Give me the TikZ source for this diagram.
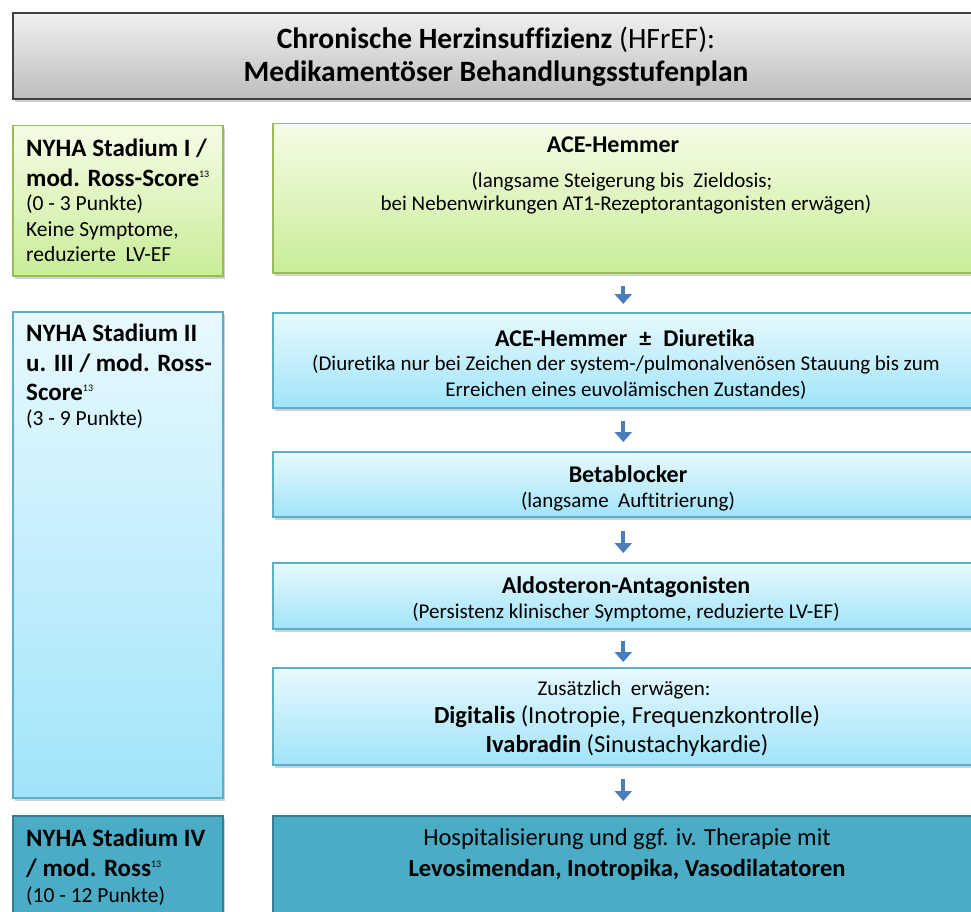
\documentclass[tikz,border=0pt]{standalone}
\usepackage{fontspec}
\setmainfont{Carlito}[Ligatures={NoCommon,NoRare,NoContextual}]
\usetikzlibrary{shadows,arrows.meta}
\definecolor{grnT}{HTML}{F5FCE6}
\definecolor{grnB}{HTML}{C9ED98}
\definecolor{grnD}{HTML}{9BBB59}
\definecolor{bluT}{HTML}{E8F9FD}
\definecolor{bluB}{HTML}{A0E4FA}
\definecolor{bluD}{HTML}{5AB0CC}
\definecolor{tealF}{HTML}{4BACC6}
\definecolor{tealD}{HTML}{357F94}
\definecolor{grayT}{HTML}{F0F0F0}
\definecolor{grayB}{HTML}{BDBDBD}
\definecolor{arr}{HTML}{4A7EBB}
\newcommand\ssc[1]{\raisebox{0.33em}{\fontsize{10}{10}\selectfont\mdseries #1}}
\tikzset{
  shbox/.style={rectangle, inner sep=0, anchor=north west,
    drop shadow={shadow xshift=2pt, shadow yshift=-3pt, opacity=0.3, fill=black!60}},
  gbox/.style={shbox, draw=grnD, line width=1.5pt, top color=grnT, bottom color=grnB},
  bbox/.style={shbox, draw=bluD, line width=1.5pt, top color=bluT, bottom color=bluB},
  tbox/.style={shbox, draw=tealD, line width=1.5pt, fill=tealF},
  titlebox/.style={shbox, draw=black!75, line width=2pt, top color=grayT, bottom color=grayB},
  lbold/.style={anchor=base west, inner sep=0, font=\fontsize{25}{29}\selectfont\bfseries},
  lnorm/.style={anchor=base west, inner sep=0, font=\fontsize{21.5}{25}\selectfont},
  rhead/.style={anchor=base, inner sep=0, font=\fontsize{24}{28}\selectfont\bfseries},
  rnorm/.style={anchor=base, inner sep=0, font=\fontsize{21}{25}\selectfont},
  rbig/.style={anchor=base, inner sep=0, font=\fontsize{24.5}{28}\selectfont},
  ttl/.style={anchor=base, inner sep=0, font=\fontsize{29.5}{34}\selectfont},
  flow/.style={draw=arr, line width=4pt, -{Triangle[width=17pt,length=10pt]}}
}
\begin{document}
\begin{tikzpicture}[x=1pt,y=-1pt]
\useasboundingbox (0,0) rectangle (971,912);
\clip (0,0) rectangle (971,912);
% title
\node[titlebox, minimum width=990pt, minimum height=86pt] (T) at (12,12) {};
\node[ttl] (t1) at (496,49) {\textbf{Chronische Herzinsuffizienz} (HFrEF):};
\node[ttl] (t2) at (496,82) {\textbf{Medikamentöser Behandlungsstufenplan}};
% left boxes
\node[gbox, minimum width=210pt, minimum height=150pt] (L1) at (12,125) {};
\node[bbox, minimum width=210pt, minimum height=486pt] (L2) at (12,311) {};
\node[tbox, minimum width=210pt, minimum height=130pt] (L3) at (12,815) {};
% right boxes
\node[gbox, minimum width=701pt, minimum height=149pt] (R1) at (272,123) {};
\node[bbox, minimum width=701pt, minimum height=95pt] (R2) at (272,312) {};
\node[bbox, minimum width=701pt, minimum height=65pt] (R3) at (272,451) {};
\node[bbox, minimum width=701pt, minimum height=66pt] (R4) at (272,562) {};
\node[bbox, minimum width=701pt, minimum height=97pt] (R5) at (272,667) {};
\node[tbox, minimum width=701pt, minimum height=130pt] (R6) at (272,815) {};
% arrows
\draw[flow, shorten <=12pt, shorten >=8pt] (R1.south) -- (R2.north);
\draw[flow, shorten <=12pt, shorten >=9pt] (R2.south) -- (R3.north);
\draw[flow, shorten <=13pt, shorten >=9pt] (R3.south) -- (R4.north);
\draw[flow, shorten <=11pt, shorten >=5pt] (R4.south) -- (R5.north);
\draw[flow, shorten <=13pt, shorten >=14pt] (R5.south) -- (R6.north);
% left texts
\node[lbold] (a1) at (26,157) {NYHA Stadium I /};
\node[lbold] (a2) at (26,186) {mod. Ross-Score\ssc{13}};
\node[lnorm] (a3) at (26,211) {(0 - 3 Punkte)};
\node[lnorm] (a4) at (26,236) {Keine Symptome,};
\node[lnorm] (a5) at (26,261) {reduzierte~ LV-EF};
\node[lbold] (b1) at (26,341) {NYHA Stadium II};
\node[lbold] (b2) at (26,371) {u. III / mod. Ross-};
\node[lbold] (b3) at (26,400) {Score\ssc{13}};
\node[lnorm] (b4) at (26,425) {(3 - 9 Punkte)};
\node[lbold] (c1) at (26,846) {NYHA Stadium IV};
\node[lbold] (c2) at (26,876) {/ mod. Ross\ssc{13}};
\node[lnorm] (c3) at (26,902) {(10 - 12 Punkte)};
% right texts
\node[rhead] (r1a) at (613,153) {ACE-Hemmer};
\node[rnorm] (r1b) at (622,188) {(langsame Steigerung bis~ Zieldosis;};
\node[rnorm] (r1c) at (626,211) {bei Nebenwirkungen AT1-Rezeptorantagonisten erwägen)};
\node[rhead] (r2a) at (625,346) {ACE-Hemmer\hspace{0.5em}±\hspace{0.5em}Diuretika};
\node[rnorm] (r2b) at (626,370) {(Diuretika nur bei Zeichen der system-/pulmonalvenösen Stauung bis zum};
\node[rnorm] (r2c) at (626,396) {Erreichen eines euvolämischen Zustandes)};
\node[rhead] (r3a) at (628,482) {Betablocker};
\node[rnorm] (r3b) at (628,507) {(langsame~ Auftitrierung)};
\node[rhead] (r4a) at (626,593) {Aldosteron-Antagonisten};
\node[rnorm] (r4b) at (626,618) {(Persistenz klinischer Symptome, reduzierte LV-EF)};
\node[rnorm] (r5a) at (624,695) {Zusätzlich~ erwägen:};
\node[rbig] (r5b) at (627,723) {\textbf{Digitalis} (Inotropie, Frequenzkontrolle)};
\node[rbig] (r5c) at (627,752) {\textbf{Ivabradin} (Sinustachykardie)};
\node[rbig] (r6a) at (627,845) {Hospitalisierung und ggf. iv. Therapie mit};
\node[rbig, font=\fontsize{24.5}{28}\selectfont\bfseries] (r6b) at (627,876) {Levosimendan, Inotropika, Vasodilatatoren};
\end{tikzpicture}
\end{document}
